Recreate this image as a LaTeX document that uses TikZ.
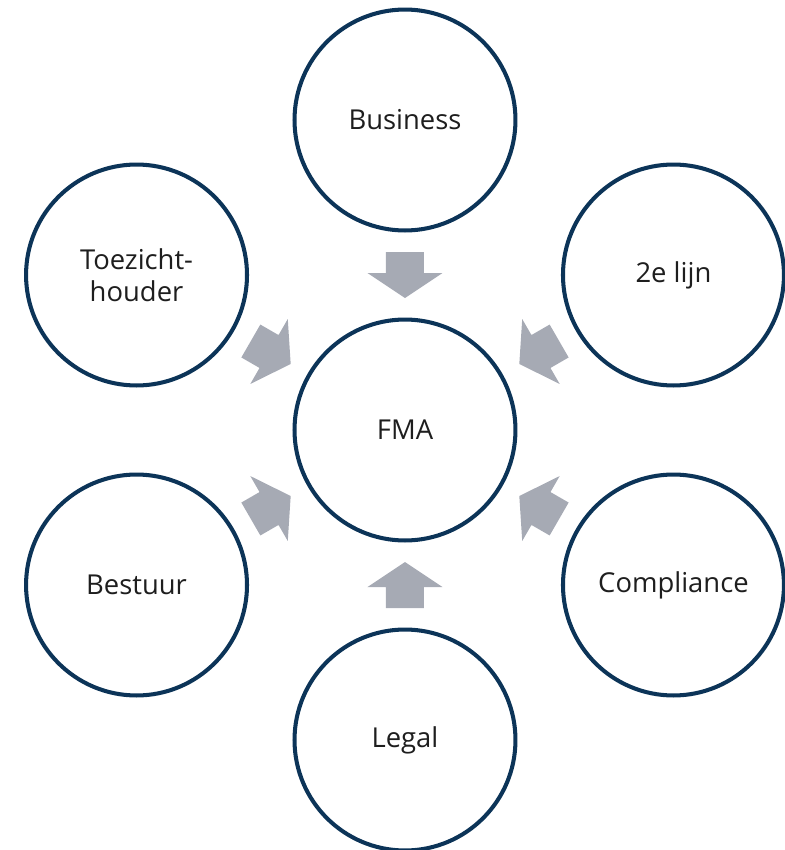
\documentclass[tikz,border=0pt]{standalone}
\usepackage{fontspec}
\setmainfont{Open Sans}
\usetikzlibrary{calc}
\definecolor{ringblue}{RGB}{12,52,88}
\definecolor{arrowgray}{RGB}{166,170,180}
\definecolor{labelgray}{RGB}{30,30,30}
\tikzset{
  party/.style={circle, draw=ringblue, line width=2.3pt, fill=white, minimum size=4.42cm, inner sep=0pt, align=center, text=labelgray, font=\fontsize{15.6}{18.5}\selectfont},
  blockarrow/.pic={\fill[arrowgray] (-23,-19) -- (-2,-19) -- (-2,-37.5) -- (23,0) -- (-2,37.5) -- (-2,19) -- (-23,19) -- cycle;}
}
\begin{document}
\begin{tikzpicture}[x=0.02cm, y=0.02cm]
			%%%%% START %%%%%
			\useasboundingbox (-405,-420) rectangle (380,430);
			
			\node[party] (fma) at (0,0) {FMA};
			
			\node[party] (business) at (90:310) {Business};
			\node[party] (lijn) at (30:310) {2e lijn};
			\node[party] (compliance) at (-30:310) {Compliance};
			\node[party] (legal) at (-90:310) {Legal};
			\node[party] (bestuur) at (-150:310) {Bestuur};
			\node[party] (toezicht) at (150:310) {Toezicht-\\houder};
			
			\foreach \n/\a in {business/-90, lijn/-150, compliance/150, legal/90, bestuur/30, toezicht/-30}
				\pic[rotate=\a] at ($(\n.center)!0.5!(fma.center)$) {blockarrow};
			
			%%%%% END %%%%%
\end{tikzpicture}
\end{document}
